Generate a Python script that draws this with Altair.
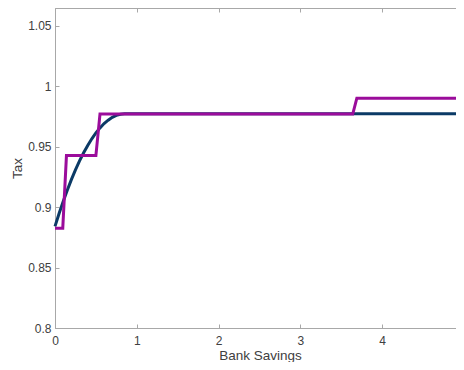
import altair as alt
import pandas as pd

# Smooth (blue) policy curve
blue_x = [0.0, 0.05, 0.1, 0.15, 0.2, 0.25, 0.3, 0.35, 0.4, 0.45, 0.5, 0.55,
          0.6, 0.65, 0.7, 0.75, 0.8, 0.85, 5.0]
blue_y = [0.884, 0.8946, 0.9046, 0.9139, 0.9226, 0.9307, 0.9381, 0.9448,
          0.9509, 0.9564, 0.9612, 0.9654, 0.9690, 0.9718, 0.9741, 0.9757,
          0.9767, 0.977, 0.977]

# Step (purple) policy
purple_x = [0.0, 0.095, 0.14, 0.5, 0.55, 3.64, 3.69, 5.0]
purple_y = [0.8825, 0.8825, 0.9425, 0.9425, 0.9768, 0.9768, 0.990, 0.990]

x_ticks = [0, 1, 2, 3, 4, 5]
y_ticks = [0.8, 0.85, 0.9, 0.95, 1.0, 1.05]

W, H = 409, 320
FONT = "Liberation Sans"
AXIS_GRAY = "#a8a8a8"
LABEL_GRAY = "#404040"

blue_df = pd.DataFrame({"x": blue_x, "y": blue_y})
purple_df = pd.DataFrame({"x": purple_x, "y": purple_y})

xs = alt.Scale(domain=[0, 5], nice=False, zero=False)
ys = alt.Scale(domain=[0.8, 1.0645], nice=False, zero=False)

x_main = alt.Axis(orient="bottom", values=x_ticks, format="d", ticks=False,
                  grid=False, domainColor=AXIS_GRAY, domainWidth=1,
                  labelFont=FONT, labelFontSize=12, labelColor=LABEL_GRAY,
                  labelPadding=7, labelFlush=False, labelOverlap=False,
                  title="Bank Savings", titleFont=FONT, titleFontSize=13.5,
                  titleFontWeight="normal", titleColor=LABEL_GRAY,
                  titleBaseline="alphabetic", titleY=31, titleX=W / 2 + 0.5)
y_main = alt.Axis(orient="left", values=y_ticks, format="~g", ticks=False,
                  grid=False, domainColor=AXIS_GRAY, domainWidth=1,
                  labelFont=FONT, labelFontSize=12, labelColor=LABEL_GRAY,
                  labelPadding=4, labelFlush=False, labelOverlap=False,
                  title="Tax", titleFont=FONT, titleFontSize=13.5,
                  titleFontWeight="normal", titleColor=LABEL_GRAY,
                  titleAngle=-90, titleBaseline="middle", titleAlign="center",
                  titleX=-37.5, titleY=H / 2)

def tick_axis(orient, values, offset):
    return alt.Axis(orient=orient, values=values, labels=False, domain=False,
                    grid=False, ticks=True, tickSize=4, tickColor=AXIS_GRAY,
                    tickWidth=1, title=None, offset=offset)

blue = alt.Chart(blue_df).mark_line(color="#0b3a66", strokeWidth=3).encode(
    x=alt.X("x:Q", scale=xs, axis=x_main),
    y=alt.Y("y:Q", scale=ys, axis=y_main),
)

purple = alt.Chart(purple_df).mark_line(color="#9b0c9b", strokeWidth=3).encode(
    x=alt.X("x:Q", scale=xs, axis=tick_axis("top", x_ticks, -H)),
    y=alt.Y("y:Q", scale=ys, axis=tick_axis("right", y_ticks, -W)),
)

ghost = alt.Chart(purple_df).mark_line(opacity=0).encode(
    x=alt.X("x:Q", scale=xs, axis=tick_axis("bottom", x_ticks, -H)),
    y=alt.Y("y:Q", scale=ys, axis=tick_axis("left", y_ticks, -W)),
)

chart = alt.layer(blue, purple, ghost).resolve_axis(
    x="independent", y="independent"
).properties(
    width=W, height=H,
    autosize=alt.AutoSizeParams(type="none"),
    padding={"left": 47, "top": 0, "right": -8, "bottom": 34},
    background="white",
).configure_view(stroke=AXIS_GRAY, strokeWidth=1)

chart.save("out.html", embed_options={"renderer": "svg", "actions": False})
